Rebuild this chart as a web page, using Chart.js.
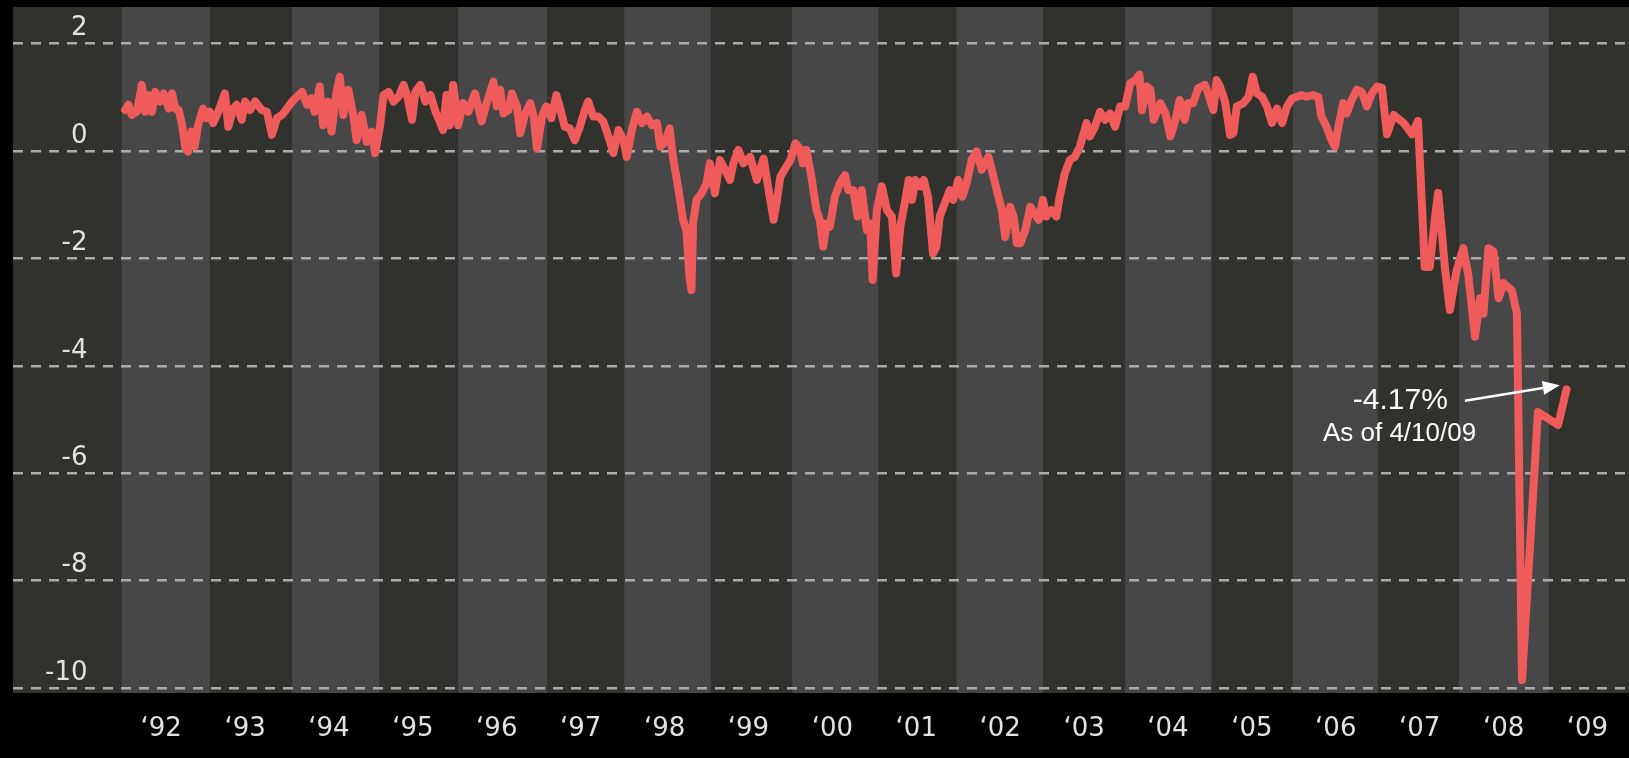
<!DOCTYPE html>
<html>
<head>
<meta charset="utf-8">
<script src="https://cdn.jsdelivr.net/npm/chart.js@4.4.1/dist/chart.umd.min.js"></script>
<style>
  html, body { margin: 0; padding: 0; background: #000; }
  #wrap { width: 1629px; height: 758px; position: relative; }
</style>
</head>
<body>
<div id="wrap"><canvas id="chart"></canvas></div>
<script>
// ---- data (decimal years, percent) ----
const DATES = [
  // 1992
  1992.04,1992.08,1992.12,1992.18,1992.24,1992.28,1992.32,1992.36,1992.40,1992.46,1992.50,1992.56,1992.60,1992.64,1992.68,1992.72,1992.76,1992.79,1992.83,1992.87,1992.91,1992.97,
  // 1993
  1993.01,1993.05,1993.09,1993.15,1993.23,1993.27,1993.33,1993.37,1993.43,1993.47,1993.53,1993.59,1993.67,1993.73,1993.79,1993.85,1993.91,1993.97,
  // 1994
  1994.03,1994.09,1994.15,1994.21,1994.26,1994.30,1994.36,1994.40,1994.46,1994.50,1994.56,1994.60,1994.64,1994.70,1994.76,1994.80,1994.86,1994.92,1994.98,
  // 1995
  1995.02,1995.08,1995.12,1995.18,1995.24,1995.30,1995.36,1995.40,1995.46,1995.50,1995.56,1995.62,1995.68,1995.74,1995.79,1995.83,1995.87,1995.91,1995.95,
  // 1996
  1996.01,1996.07,1996.13,1996.21,1996.29,1996.35,1996.43,1996.47,1996.51,1996.55,1996.61,1996.65,1996.71,1996.75,1996.81,1996.87,1996.91,1996.95,
  // 1997
  1997.01,1997.06,1997.12,1997.18,1997.22,1997.28,1997.34,1997.40,1997.46,1997.52,1997.56,1997.62,1997.68,1997.74,1997.80,1997.86,1997.92,1997.98,
  // 1998
  1998.02,1998.08,1998.14,1998.20,1998.26,1998.32,1998.38,1998.42,1998.48,1998.53,1998.57,1998.63,1998.69,1998.73,1998.77,1998.79,1998.81,1998.85,1998.91,1998.97,
  // 1999
  1999.01,1999.07,1999.13,1999.19,1999.25,1999.29,1999.35,1999.41,1999.49,1999.57,1999.65,1999.71,1999.77,1999.81,1999.85,1999.91,1999.97,
  // 2000
  2000.03,2000.08,2000.12,2000.16,2000.22,2000.28,2000.32,2000.36,2000.40,2000.44,2000.50,2000.56,2000.62,2000.66,2000.72,2000.77,2000.82,2000.88,2000.92,2000.95,
  // 2001
  2001.00,2001.06,2001.12,2001.18,2001.23,2001.28,2001.34,2001.38,2001.42,2001.46,2001.52,2001.56,2001.61,2001.67,2001.71,2001.75,2001.81,2001.87,2001.91,2001.97,
  // 2002
  2002.02,2002.07,2002.13,2002.19,2002.25,2002.29,2002.33,2002.39,2002.43,2002.49,2002.53,2002.59,2002.63,2002.67,2002.71,2002.77,2002.83,2002.88,2002.93,2002.98,
  // 2003
  2003.02,2003.08,2003.14,2003.18,2003.24,2003.30,2003.36,2003.42,2003.50,2003.54,2003.60,2003.66,2003.72,2003.78,2003.84,2003.90,2003.96,
  // 2004
  2004.02,2004.08,2004.13,2004.16,2004.22,2004.26,2004.30,2004.38,2004.44,2004.50,2004.56,2004.61,2004.67,2004.71,2004.77,2004.83,2004.91,2004.95,
  // 2005
  2005.01,2005.05,2005.09,2005.15,2005.21,2005.25,2005.29,2005.37,2005.43,2005.48,2005.53,2005.59,2005.65,2005.71,2005.77,2005.83,2005.89,2005.95,
  // 2006
  2006.01,2006.06,2006.12,2006.20,2006.26,2006.30,2006.36,2006.42,2006.46,2006.50,2006.56,2006.60,2006.66,2006.72,2006.78,2006.84,2006.90,2006.96,
  // 2007
  2007.02,2007.08,2007.16,2007.28,2007.38,2007.45,2007.51,2007.53,2007.59,2007.65,2007.69,2007.73,2007.77,2007.83,2007.91,2007.99,
  // 2008
  2008.05,2008.13,2008.19,2008.23,2008.29,2008.35,2008.41,2008.47,2008.57,2008.63,2008.69,2008.88,
  // 2009
  2009.12,2009.22
];
const VALUES = [
  // 1992
  0.76,0.86,0.67,0.73,1.23,0.73,1.04,0.73,1.10,0.92,1.07,0.79,1.07,0.79,0.76,0.48,0.05,-0.01,0.36,0.08,0.48,0.79,
  // 1993
  0.61,0.73,0.52,0.73,1.07,0.45,0.79,0.86,0.58,0.92,0.76,0.92,0.76,0.73,0.30,0.61,0.67,0.79,
  // 1994
  0.92,1.01,1.10,0.86,0.98,0.73,1.20,0.48,0.92,0.36,1.10,1.38,0.67,1.14,0.67,0.20,0.67,0.17,0.36,
  // 1995
  -0.04,0.48,1.04,1.10,0.92,1.01,1.23,1.04,0.58,1.10,1.23,0.92,1.04,0.73,0.55,0.39,1.04,0.48,1.23,
  // 1996
  0.48,0.89,0.73,1.07,0.55,0.89,1.29,0.83,1.14,0.70,0.76,1.07,0.83,0.33,0.70,0.89,0.64,0.05,
  // 1997
  0.64,0.83,0.61,1.04,0.83,0.45,0.42,0.20,0.45,0.76,0.92,0.64,0.64,0.55,0.27,-0.04,0.39,0.20,
  // 1998
  -0.11,0.39,0.73,0.52,0.64,0.48,0.52,0.08,0.17,0.42,-0.11,-0.66,-1.28,-1.47,-2.40,-2.59,-1.35,-0.91,-0.79,-0.60,
  // 1999
  -0.23,-0.79,-0.17,-0.35,-0.54,-0.23,0.02,-0.23,-0.11,-0.54,-0.14,-0.73,-1.28,-0.91,-0.48,-0.32,-0.17,
  // 2000
  0.14,0.05,-0.23,0.02,-0.48,-1.10,-1.28,-1.78,-1.35,-1.41,-0.85,-0.60,-0.45,-0.73,-0.73,-1.22,-0.73,-1.47,-1.35,-2.40,
  // 2001
  -1.10,-0.66,-1.10,-1.22,-2.28,-1.41,-0.91,-0.54,-0.91,-0.54,-0.66,-0.54,-0.85,-1.91,-1.78,-1.22,-0.97,-0.73,-0.91,-0.54,
  // 2002
  -0.85,-0.60,-0.17,-0.01,-0.35,-0.23,-0.11,-0.48,-0.73,-1.10,-1.60,-1.04,-1.22,-1.72,-1.72,-1.47,-1.04,-1.16,-1.28,-0.91,
  // 2003
  -1.22,-1.10,-1.22,-0.85,-0.42,-0.17,-0.11,0.08,0.52,0.27,0.45,0.73,0.58,0.70,0.45,0.83,0.83,
  // 2004
  1.26,1.32,1.42,0.76,1.20,1.14,0.58,0.89,0.70,0.27,0.58,0.95,0.58,0.89,0.89,1.17,1.23,1.07,
  // 2005
  0.76,1.32,1.20,0.92,0.30,0.33,0.83,0.89,1.01,1.38,1.07,1.01,0.83,0.52,0.79,0.52,0.83,0.98,
  // 2006
  1.01,1.04,1.01,1.04,1.01,0.64,0.45,0.20,0.08,0.45,0.89,0.70,0.95,1.14,1.10,0.83,1.07,1.20,
  // 2007
  1.18,0.31,0.67,0.52,0.31,0.56,-1.43,-2.16,-2.16,-1.28,-0.78,-1.43,-2.16,-2.96,-2.23,-1.81,
  // 2008
  -2.31,-3.46,-2.74,-3.03,-1.81,-1.87,-2.74,-2.46,-2.60,-3.03,-9.85,-4.86,
  // 2009
  -5.10,-4.44
];

// ---- axes ----
const Y_TICKS = [2, 0, -2, -4, -6, -8, -10];
const Y_RANGE = [-10.09, 2.68];
const X_RANGE = [1990.704, 2009.965];
const X_TICK_YEARS = [1992,1993,1994,1995,1996,1997,1998,1999,2000,2001,2002,2003,2004,2005,2006,2007,2008,2009];
const X_TICK_LABELS = ['\u201892','\u201893','\u201894','\u201895','\u201896','\u201897','\u201898','\u201899','\u201800','\u201801','\u201802','\u201803','\u201804','\u201805','\u201806','\u201807','\u201808','\u201809'];
const X_LABEL_SHIFT = 0.47;

// alternating year bands (lighter ones), in decimal years
const LIGHT_BAND_STARTS = [1992.00, 1994.03, 1996.01, 1997.99, 1999.99, 2001.95, 2003.96, 2005.96, 2007.94];
const LIGHT_BAND_ENDS   = [1993.05, 1995.07, 1997.07, 1999.02, 2001.02, 2002.98, 2004.99, 2006.97, 2009.01];

// ---- annotation ----
const NOTE_VALUE_TEXT = '-4.17%';
const NOTE_DATE_TEXT = 'As of 4/10/09';
const NOTE_VALUE_AT = { x: 2007.24, y: -4.65 };
const NOTE_DATE_AT = { x: 2007.23, y: -5.27 };
const NOTE_ARROW_FROM = { x: 2008.01, y: -4.65 };
const NOTE_ARROW_TO = { x: 2009.14, y: -4.36 };

// ---- styles ----
const COLOR_DARK = '#31312e';
const COLOR_LIGHT = '#474747';
const COLOR_LINE = '#ef5b5b';
const COLOR_GRID = '#ababab';
const COLOR_TICK = '#e2e2e2';
const TICK_FONT = { family: 'DejaVu Sans', size: 26 };

const backdrop = {
  id: 'backdrop',
  beforeDraw(chart) {
    const { ctx, chartArea: a, scales: { x } } = chart;
    ctx.save();
    ctx.fillStyle = '#000';
    ctx.fillRect(0, 0, chart.width, chart.height);
    ctx.fillStyle = COLOR_DARK;
    ctx.fillRect(a.left, a.top, a.right - a.left, a.bottom - a.top);
    ctx.beginPath();
    ctx.rect(a.left, a.top, a.right - a.left, a.bottom - a.top);
    ctx.clip();
    ctx.fillStyle = COLOR_LIGHT;
    for (let i = 0; i < LIGHT_BAND_STARTS.length; i++) {
      const x0 = x.getPixelForValue(LIGHT_BAND_STARTS[i]);
      const x1 = x.getPixelForValue(LIGHT_BAND_ENDS[i]);
      ctx.fillRect(x0, a.top, x1 - x0, a.bottom - a.top);
    }
    ctx.restore();
  }
};

const note = {
  id: 'note',
  afterDatasetsDraw(chart) {
    const { ctx, scales: { x, y } } = chart;
    ctx.save();
    ctx.fillStyle = '#ffffff';
    ctx.strokeStyle = '#ffffff';
    ctx.textAlign = 'center';
    ctx.textBaseline = 'middle';
    ctx.font = '30px "Liberation Sans", Arial, sans-serif';
    ctx.fillText(NOTE_VALUE_TEXT, x.getPixelForValue(NOTE_VALUE_AT.x), y.getPixelForValue(NOTE_VALUE_AT.y));
    ctx.font = '26px "Liberation Sans", Arial, sans-serif';
    ctx.fillText(NOTE_DATE_TEXT, x.getPixelForValue(NOTE_DATE_AT.x), y.getPixelForValue(NOTE_DATE_AT.y));
    const x0 = x.getPixelForValue(NOTE_ARROW_FROM.x), y0 = y.getPixelForValue(NOTE_ARROW_FROM.y);
    const x1 = x.getPixelForValue(NOTE_ARROW_TO.x), y1 = y.getPixelForValue(NOTE_ARROW_TO.y);
    const ang = Math.atan2(y1 - y0, x1 - x0);
    const headLen = 17, headHalf = 7;
    const bx = x1 - headLen * Math.cos(ang), by = y1 - headLen * Math.sin(ang);
    ctx.lineWidth = 2.5;
    ctx.beginPath();
    ctx.moveTo(x0, y0);
    ctx.lineTo(bx, by);
    ctx.stroke();
    ctx.beginPath();
    ctx.moveTo(x1, y1);
    ctx.lineTo(bx + headHalf * Math.sin(ang), by - headHalf * Math.cos(ang));
    ctx.lineTo(bx - headHalf * Math.sin(ang), by + headHalf * Math.cos(ang));
    ctx.closePath();
    ctx.fill();
    ctx.restore();
  }
};

new Chart(document.getElementById('chart'), {
  type: 'line',
  data: {
    datasets: [{
      data: DATES.map((d, i) => ({ x: d, y: VALUES[i] })),
      borderColor: COLOR_LINE,
      borderWidth: 8,
      pointRadius: 0,
      tension: 0,
      borderJoinStyle: 'round',
      borderCapStyle: 'round',
      fill: false
    }]
  },
  options: {
    responsive: true,
    maintainAspectRatio: false,
    devicePixelRatio: 1,
    animation: false,
    events: [],
    layout: { padding: { left: 13, top: 7, right: 0, bottom: 0 }, autoPadding: false },
    plugins: { legend: { display: false }, tooltip: { enabled: false } },
    scales: {
      x: {
        type: 'linear',
        min: X_RANGE[0],
        max: X_RANGE[1],
        afterBuildTicks: (s) => { s.ticks = X_TICK_YEARS.map(v => ({ value: v + X_LABEL_SHIFT })); },
        afterFit: (s) => { s.height = 65; s.paddingLeft = 0; s.paddingRight = 0; },
        grid: { display: false, drawTicks: false },
        border: { display: false },
        ticks: {
          autoSkip: false,
          maxRotation: 0,
          padding: 21,
          color: COLOR_TICK,
          font: TICK_FONT,
          callback: (v, i) => X_TICK_LABELS[i]
        }
      },
      y: {
        type: 'linear',
        min: Y_RANGE[0],
        max: Y_RANGE[1],
        afterBuildTicks: (s) => { s.ticks = Y_TICKS.map(v => ({ value: v })); },
        afterFit: (s) => { s.width = 0; s.paddingTop = 0; s.paddingBottom = 0; },
        grid: { color: COLOR_GRID, lineWidth: 2.5, drawTicks: false },
        border: { display: false, dash: [10, 8] },
        ticks: {
          mirror: true,
          crossAlign: 'far',
          padding: 32,
          labelOffset: -15,
          color: COLOR_TICK,
          font: TICK_FONT,
          callback: (v) => String(v)
        }
      }
    }
  },
  plugins: [backdrop, note]
});
</script>
</body>
</html>
